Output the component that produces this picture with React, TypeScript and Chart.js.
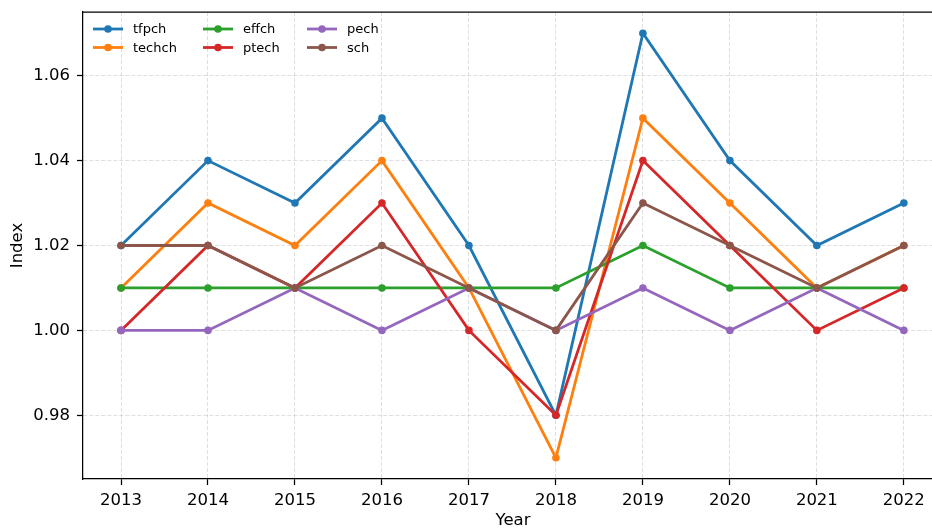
import React, { useEffect, useRef } from "react";
import { Chart, registerables } from "chart.js";
Chart.register(...registerables);

const years = [2013, 2014, 2015, 2016, 2017, 2018, 2019, 2020, 2021, 2022];
const tfpch = [1.02, 1.04, 1.03, 1.05, 1.02, 0.98, 1.07, 1.04, 1.02, 1.03];
const techch = [1.01, 1.03, 1.02, 1.04, 1.01, 0.97, 1.05, 1.03, 1.01, 1.02];
const effch = [1.01, 1.01, 1.01, 1.01, 1.01, 1.01, 1.02, 1.01, 1.01, 1.01];
const ptech = [1.0, 1.02, 1.01, 1.03, 1.0, 0.98, 1.04, 1.02, 1.0, 1.01];
const pech = [1.0, 1.0, 1.01, 1.0, 1.01, 1.0, 1.01, 1.0, 1.01, 1.0];
const sch = [1.02, 1.02, 1.01, 1.02, 1.01, 1.0, 1.03, 1.02, 1.01, 1.02];
const yTicks = [0.98, 1.0, 1.02, 1.04, 1.06];

const seriesNames = ["tfpch", "techch", "effch", "ptech", "pech", "sch"];
const seriesValues = [tfpch, techch, effch, ptech, pech, sch];
const colors = ["#1f77b4", "#ff7f0e", "#2ca02c", "#d62728", "#9467bd", "#8c564b"];

const FONT = "'DejaVu Sans', sans-serif";

const framePlugin = {
  id: "frameAndLegend",
  afterDatasetsDraw(chart: any) {
    const { ctx, chartArea } = chart;
    ctx.save();
    ctx.strokeStyle = "#000";
    ctx.lineWidth = 1.25;
    ctx.beginPath();
    ctx.moveTo(chartArea.left, chartArea.top);
    ctx.lineTo(chartArea.right, chartArea.top);
    ctx.stroke();
    const colX = [93, 203, 307];
    const rowY = [29, 47.5];
    ctx.font = `13px ${FONT}`;
    ctx.textBaseline = "middle";
    ctx.textAlign = "left";
    seriesNames.forEach((name, i) => {
      const c = Math.floor(i / 2);
      const r = i % 2;
      const x = colX[c];
      const y = rowY[r];
      ctx.strokeStyle = colors[i];
      ctx.lineWidth = 2.8;
      ctx.beginPath();
      ctx.moveTo(x, y);
      ctx.lineTo(x + 30, y);
      ctx.stroke();
      ctx.fillStyle = colors[i];
      ctx.beginPath();
      ctx.arc(x + 15, y, 3.8, 0, Math.PI * 2);
      ctx.fill();
      ctx.fillStyle = "#000";
      ctx.fillText(name, x + 40, y + 1);
    });
    ctx.restore();
  },
};

export default function App() {
  const ref = useRef<HTMLCanvasElement>(null);
  useEffect(() => {
    if (!ref.current) return;
    const chart = new Chart(ref.current, {
      type: "line",
      data: {
        datasets: seriesNames.map((name, i) => ({
          label: name,
          data: years.map((yr, j) => ({ x: yr, y: seriesValues[i][j] })),
          borderColor: colors[i],
          backgroundColor: colors[i],
          pointBackgroundColor: colors[i],
          pointBorderWidth: 0,
          pointRadius: 3.8,
          borderWidth: 2.8,
          tension: 0,
          fill: false,
          order: seriesNames.length - i,
        })),
      },
      options: {
        animation: false,
        responsive: false,
        maintainAspectRatio: false,
        devicePixelRatio: 1,
        layout: { padding: { left: 0, right: 17, top: 12, bottom: 0 } },
        plugins: { legend: { display: false }, tooltip: { enabled: false } },
        scales: {
          x: {
            type: "linear",
            min: 2012.563,
            max: 2022.45,
            afterBuildTicks: (s: any) => {
              s.ticks = years.map((v) => ({ value: v }));
            },
            afterFit: (s: any) => {
              s.height = 52;
              s.paddingLeft = 0;
              s.paddingRight = 0;
            },
            ticks: {
              callback: (v: any) => String(v),
              font: { family: FONT, size: 16.5 },
              color: "#000",
              padding: 6,
              maxRotation: 0,
              autoSkip: false,
            },
            grid: {
              color: "rgba(176,176,176,0.5)",
              lineWidth: 0.8,
              drawTicks: true,
              tickLength: 6,
              tickColor: "#000",
              tickWidth: 1.25,
              tickBorderDash: [],
            } as any,
            border: { display: true, color: "#000", width: 1.25, dash: [4, 2] } as any,
            title: {
              display: true,
              text: "Year",
              font: { family: FONT, size: 16.5 },
              color: "#000",
              padding: { top: 0, bottom: 0 },
            },
          },
          y: {
            type: "linear",
            min: 0.965,
            max: 1.075,
            afterBuildTicks: (s: any) => {
              s.ticks = yTicks.map((v) => ({ value: v }));
            },
            afterFit: (s: any) => {
              s.width = 83;
              s.paddingTop = 0;
              s.paddingBottom = 0;
            },
            ticks: {
              callback: (v: any) => Number(v).toFixed(2),
              font: { family: FONT, size: 16.5 },
              color: "#000",
              padding: 7,
            },
            grid: {
              color: "rgba(176,176,176,0.5)",
              lineWidth: 0.8,
              drawTicks: true,
              tickLength: 6,
              tickColor: "#000",
              tickWidth: 1.25,
              tickBorderDash: [],
            } as any,
            border: { display: true, color: "#000", width: 1.25, dash: [4, 2] } as any,
            title: {
              display: true,
              text: "Index",
              font: { family: FONT, size: 16.5 },
              color: "#000",
              padding: { top: 8, bottom: 0 },
            },
          },
        },
      },
      plugins: [framePlugin],
    });
    return () => chart.destroy();
  }, []);
  return (
    <div style={{ position: "fixed", left: 0, top: 0, width: 932, height: 531, overflow: "hidden", background: "#fff" }}>
      <canvas ref={ref} width={960} height={531} style={{ display: "block" }} />
    </div>
  );
}
